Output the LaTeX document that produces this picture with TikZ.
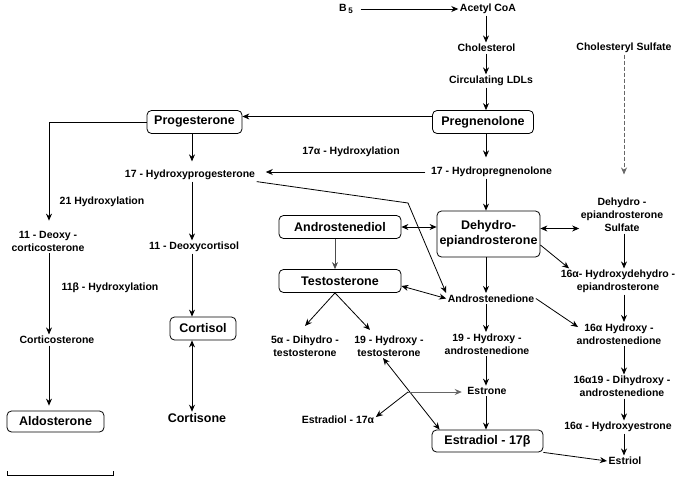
\documentclass[tikz,border=0pt]{standalone}
\usepackage{fontspec}
\setmainfont{Liberation Sans}
\usetikzlibrary{arrows.meta}
\begin{document}
\begin{tikzpicture}[x=1pt,y=-1pt,
 lbl/.style={font=\fontsize{10.5}{13}\selectfont\bfseries, inner sep=1.5pt, align=center},
 box/.style={draw, rounded corners=4.5pt, line width=0.8pt, font=\fontsize{12.5}{15.5}\selectfont\bfseries, inner sep=0pt, align=center},
 arr/.style={line width=0.8pt, -{Stealth[length=7pt,width=6pt]}},
 darr/.style={line width=0.8pt, {Stealth[length=7pt,width=6pt]}-{Stealth[length=7pt,width=6pt]}},
]
\useasboundingbox (0,0) rectangle (681,477);
% top chain
\node[lbl] (b5) at (346,9) {B\,{\fontsize{8}{9}\selectfont\raisebox{-2pt}{5}}};
\node[lbl] (acetyl) at (488,9) {Acetyl CoA};
\node[lbl] (chol) at (486.5,48) {Cholesterol};
\node[lbl] (ldl) at (491,81) {Circulating LDLs};
\node[box, minimum width=101pt, minimum height=23pt] (preg) at (483,122) {Pregnenolone};
\node[box, minimum width=95pt, minimum height=23pt] (prog) at (194.5,122) {Progesterone};
\node[lbl] (hydrox17) at (351,152) {17α - Hydroxylation};
\node[lbl] (hprog) at (190,175) {17 - Hydroxyprogesterone};
\node[lbl] (hpreg) at (491.5,172) {17 - Hydropregnenolone};
\node[lbl] (cholsulf) at (624,48) {Cholesteryl Sulfate};
\node[lbl] (dheas) at (622,215) {Dehydro -\\epiandrosterone\\Sulfate};
\node[box, minimum width=103pt, minimum height=46pt] (dhea) at (488.5,234) {Dehydro-\\epiandrosterone};
\node[box, minimum width=122pt, minimum height=23pt] (adiol) at (340,227) {Androstenediol};
\node[box, minimum width=122pt, minimum height=23pt] (testo) at (340,281) {Testosterone};
\node[lbl] (andro) at (491,298.5) {Androstenedione};
% right column
\node[lbl] (ohdhea) at (618,281.5) {16α- Hydroxydehydro -\\epiandrosterone};
\node[lbl] (ohandro) at (619,334) {16α Hydroxy -\\androstenedione};
\node[lbl] (dihy) at (622,386.5) {16α19 - Dihydroxy -\\androstenedione};
\node[lbl] (ohestrone) at (618,427) {16α - Hydroxyestrone};
\node[lbl] (estriol) at (625,461) {Estriol};
\node[box, minimum width=111pt, minimum height=22pt] (estb) at (487.5,441) {Estradiol - 17β};
\node[lbl] (oh19andro) at (487,344) {19 - Hydroxy -\\androstenedione};
\node[lbl] (estrone) at (487,391) {Estrone};
\node[lbl] (dht) at (305,346) {5α - Dihydro -\\testosterone};
\node[lbl] (oh19testo) at (389,346) {19 - Hydroxy -\\testosterone};
\node[lbl] (estra) at (338,420) {Estradiol - 17α};
% left columns
\node[lbl] (deoxy) at (48,241.5) {11 - Deoxy -\\corticosterone};
\node[lbl] (hyd21) at (102,202) {21 Hydroxylation};
\node[lbl] (hyd11) at (110,288) {11β - Hydroxylation};
\node[lbl] (corticost) at (57,340) {Corticosterone};
\node[box, minimum width=97pt, minimum height=21pt] (aldo) at (55.5,421.5) {Aldosterone};
\node[lbl] (dcort) at (194,247) {11 - Deoxycortisol};
\node[box, minimum width=66pt, minimum height=23pt] (cortisol) at (203,328.5) {Cortisol};
\node[lbl, font=\fontsize{12.5}{15}\selectfont\bfseries] (cortisone) at (197,418) {Cortisone};
% helper coordinates
\coordinate (bend) at (408,203);
\coordinate (cross) at (408,392);
\coordinate (colL) at (49,0);
\coordinate (colM) at (192,0);
\coordinate (colR) at (486,0);
\coordinate (colS) at (624,0);
% connectors
\draw[arr] ([xshift=6pt]b5.east) -- (acetyl.west);
\draw[arr] (acetyl.south -| colR) -- (chol.north -| colR);
\draw[arr] (chol.south -| colR) -- (ldl.north -| colR);
\draw[arr] (ldl.south -| colR) -- (preg.north -| colR);
\draw[arr] ([yshift=5.5pt]preg.west) -- ([yshift=5.5pt]prog.east);
\draw[arr, shorten >=9pt] (prog.west) -| (deoxy.north -| colL);
\draw[arr, shorten >=7pt] (prog.south -| colM) -- (hprog.north -| colM);
\draw[arr, shorten >=8pt] (preg.south -| colR) -- (hpreg.north -| colR);
\draw[arr, shorten >=9pt] ([xshift=-4pt]hpreg.west) -- (hpreg.west -| hprog.east);
\draw[arr] (hprog.south east) -- (bend) -- (andro.north west);
\draw[arr, dashed, dash pattern=on 4pt off 2pt, black!60, shorten >=22pt] (cholsulf.south -| colS) -- (dheas.north -| colS);
\draw[arr] (hpreg.south -| colR) -- (dhea.north -| colR);
\draw[darr] ([yshift=5.5pt]dhea.east) -- ([yshift=5.5pt]dhea.east -| dheas.west);
\draw[darr] (adiol.east) -- (adiol.east -| dhea.west);
\draw[arr, black!70] ([xshift=-5pt]adiol.south) -- ([xshift=-5pt]testo.north);
\draw[darr] ([yshift=-5pt]testo.east) -- (andro.west);
\draw[arr] (dhea.south -| colR) -- (andro.north -| colR);
\draw[arr] ([yshift=-11pt]dhea.east) -- ([xshift=10pt]ohdhea.north west);
\draw[arr] (dheas.south -| colS) -- (ohdhea.north -| colS);
\draw[arr] (ohdhea.south -| colS) -- (ohandro.north -| colS);
\draw[arr] (andro.east) -- ([shift={(3pt,7pt)}]ohandro.west);
\draw[arr] (ohandro.south -| colS) -- (dihy.north -| colS);
\draw[arr] (dihy.south -| colS) -- (ohestrone.north -| colS);
\draw[arr] (ohestrone.south -| colS) -- (estriol.north -| colS);
\draw[arr] (estb.south east) -- (estriol.west);
\draw[arr] (andro.south -| colR) -- (oh19andro.north -| colR);
\draw[arr] (oh19andro.south -| colR) -- (estrone.north -| colR);
\draw[arr] (estrone.south -| colR) -- (estb.north -| colR);
\draw[arr] ([xshift=-5pt]testo.south) -- ([yshift=8pt]dht.north);
\draw[arr] ([xshift=-5pt]testo.south) -- ([shift={(-19pt,4pt)}]oh19testo.north);
\draw[darr] ([xshift=-6pt]oh19testo.south) -- ([xshift=8pt]estb.north west);
\draw[arr, black!60, shorten >=4pt] (cross) -- (cross -| estrone.west);
\draw[arr] (cross) -- ([yshift=3pt]estra.east);
\draw[arr] (deoxy.south -| colL) -- (corticost.north -| colL);
\draw[arr, shorten >=5pt] (corticost.south -| colL) -- (aldo.north -| colL);
\draw[arr] (hprog.south -| colM) -- (dcort.north -| colM);
\draw[arr] (dcort.south -| colM) -- (cortisol.north -| colM);
\draw[darr] (cortisol.south -| colM) -- (cortisone.north -| colM);
% scale bar
\draw[line width=0.8pt] (7,471) -- (7,475) -- (113,475) -- (113,471);
\end{tikzpicture}
\end{document}
